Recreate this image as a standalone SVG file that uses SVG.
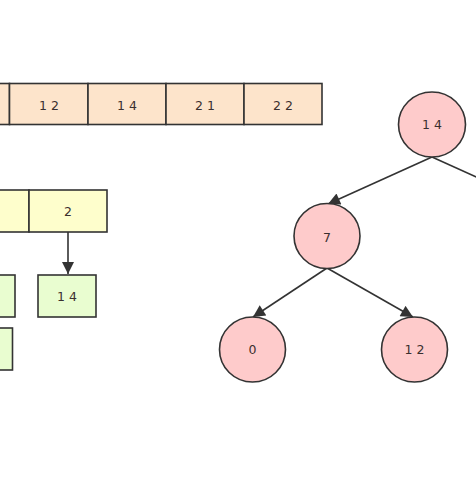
<svg xmlns="http://www.w3.org/2000/svg" width="476" height="477" viewBox="0 0 476 477">
<defs>
<style>
.arr{fill:#fde4cb;stroke:#333;stroke-width:1.6}
.yel{fill:#fefecc;stroke:#333;stroke-width:1.6}
.grn{fill:#e9fdd0;stroke:#333;stroke-width:1.6}
.cir{fill:#fecbcb;stroke:#333;stroke-width:1.6}
.t{font-family:"DejaVu Sans",sans-serif;font-size:12.5px;fill:#3a2f2f;text-anchor:middle;dominant-baseline:central}
.e{stroke:#333;stroke-width:1.6;fill:none}
</style>
<marker id="ah2" viewBox="0 0 10 10" refX="10" refY="5" markerWidth="14" markerHeight="12" orient="auto" markerUnits="userSpaceOnUse">
<path d="M0,0 L10,5 L0,10 z" fill="#333"/>
</marker>
</defs>
<rect width="476" height="477" fill="#fff"/>
<g id="array">
<rect class="arr" x="-70" y="83.5" width="79.5" height="41"/>
<rect class="arr" x="9.5" y="83.5" width="78.5" height="41"/>
<rect class="arr" x="88" y="83.5" width="78" height="41"/>
<rect class="arr" x="166" y="83.5" width="78" height="41"/>
<rect class="arr" x="244" y="83.5" width="78" height="41"/>
<text class="t" x="49" y="105.5">1 2</text>
<text class="t" x="127" y="105.5">1 4</text>
<text class="t" x="205" y="105.5">2 1</text>
<text class="t" x="283" y="105.5">2 2</text>
</g>
<g id="yellow">
<rect class="yel" x="-50" y="190" width="79" height="42"/>
<rect class="yel" x="29" y="190" width="78" height="42"/>
<text class="t" x="68" y="211.5">2</text>
</g>
<g id="green1">
<rect class="grn" x="-30" y="275" width="45" height="42"/>
</g>
<g id="green2">
<rect class="grn" x="38" y="275" width="58" height="42"/>
<text class="t" x="67" y="296.5">1 4</text>
</g>
<g id="green3">
<rect class="grn" x="-30" y="328" width="42.5" height="42"/>
</g>
<g id="edges">
<line class="e" x1="68" y1="232" x2="68" y2="274" marker-end="url(#ah2)"/>
<line class="e" x1="432" y1="157" x2="328" y2="204" marker-end="url(#ah2)"/>
<line class="e" x1="432" y1="157" x2="536" y2="204"/>
<line class="e" x1="327" y1="268" x2="253" y2="317" marker-end="url(#ah2)"/>
<line class="e" x1="327" y1="268" x2="413" y2="317" marker-end="url(#ah2)"/>
</g>
<g id="n14">
<ellipse class="cir" cx="432" cy="124.5" rx="33.5" ry="32.5"/>
<text class="t" x="432" y="124.5">1 4</text>
</g>
<g id="n7">
<ellipse class="cir" cx="327" cy="236" rx="33" ry="32.5"/>
<text class="t" x="327" y="237">7</text>
</g>
<g id="n0">
<ellipse class="cir" cx="252.5" cy="349.5" rx="33" ry="32.5"/>
<text class="t" x="252.5" y="349.5">0</text>
</g>
<g id="n12">
<ellipse class="cir" cx="414.5" cy="349.5" rx="33" ry="32.5"/>
<text class="t" x="414.5" y="349">1 2</text>
</g>
</svg>
